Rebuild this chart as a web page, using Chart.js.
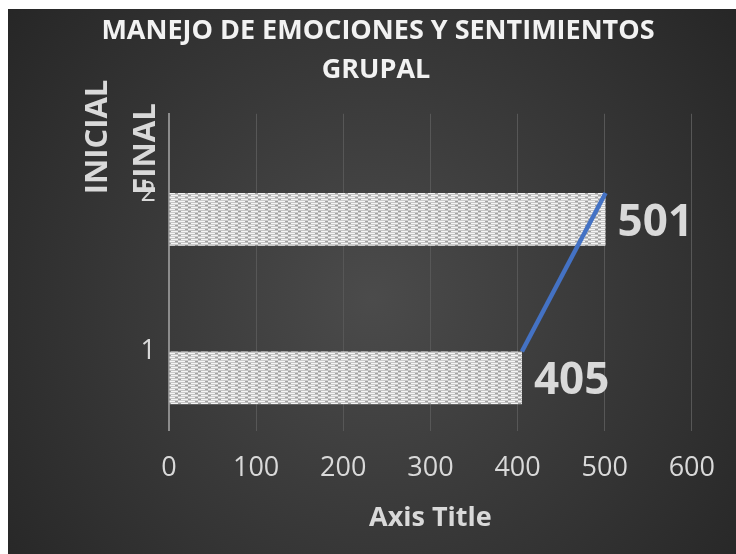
<!DOCTYPE html>
<html>
<head>
<meta charset="utf-8">
<script src="https://cdn.jsdelivr.net/npm/chart.js@4.4.1/dist/chart.umd.min.js"></script>
<style>
  html, body { margin: 0; padding: 0; background: #ffffff; width: 736px; height: 554px; overflow: hidden; }
  #c { position: absolute; left: 8px; top: 9px; }
</style>
</head>
<body>
<canvas id="c" width="728" height="545"></canvas>
<script>
// ---- data ----
const categories = ['1', '2'];
const values = [405, 501];
const emptySeries = [null, null];
const xMin = 0;
const xMax = 600;
const xStep = 100;
const titleLines = ['MANEJO DE EMOCIONES Y SENTIMIENTOS', 'GRUPAL'];
const yTitleA = 'INICIAL';
const yTitleB = 'FINAL';
const xTitle = 'Axis Title';

// ---- bar texture pattern ----
function makePattern() {
  const t = document.createElement('canvas');
  t.width = 10; t.height = 4;
  const g = t.getContext('2d');
  g.fillStyle = '#d6d6d6'; g.fillRect(0, 0, 10, 4);
  g.fillStyle = '#f4f4f4'; g.fillRect(0, 0, 7, 1);
  g.fillStyle = '#a2a2a2'; g.fillRect(7, 0, 3, 1);
  g.fillStyle = '#c4c4c4'; g.fillRect(0, 1, 10, 1);
  g.fillStyle = '#f4f4f4'; g.fillRect(3, 2, 7, 1);
  g.fillStyle = '#a2a2a2'; g.fillRect(0, 2, 3, 1);
  g.fillStyle = '#cacaca'; g.fillRect(0, 3, 10, 1);
  return document.getElementById('c').getContext('2d').createPattern(t, 'repeat');
}
const barPattern = makePattern();

const bgPlugin = {
  id: 'bg',
  beforeDraw(chart) {
    const ctx = chart.ctx;
    const w = chart.width, h = chart.height;
    const g = ctx.createRadialGradient(364, 290, 0, 364, 290, 470);
    g.addColorStop(0, '#4b4b4b');
    g.addColorStop(1, '#262626');
    ctx.save();
    ctx.fillStyle = g;
    ctx.fillRect(0, 0, w, h);
    ctx.restore();
  }
};

const textPlugin = {
  id: 'texts',
  afterDatasetsDraw(chart) {
    const ctx = chart.ctx;
    const meta = chart.getDatasetMeta(1);
    ctx.save();
    ctx.fillStyle = '#d9d9d9';
    ctx.font = 'bold 44px "Open Sans"';
    ctx.textAlign = 'left';
    ctx.textBaseline = 'middle';
    meta.data.forEach((el, i) => {
      ctx.fillText(String(values[i]), el.x + 12, el.y + 4);
    });
    ctx.restore();
  },
  afterDraw(chart) {
    const ctx = chart.ctx;
    const a = chart.chartArea;
    ctx.save();
    // chart title
    ctx.fillStyle = '#f2f2f2';
    ctx.font = 'bold 27px "Open Sans"';
    ctx.textAlign = 'center';
    ctx.textBaseline = 'alphabetic';
    ctx.fillText(titleLines[0], 370, 30);
    ctx.fillText(titleLines[1], 368, 69);
    // x axis title
    ctx.fillStyle = '#d9d9d9';
    ctx.font = 'bold 27px "Open Sans"';
    ctx.fillText(xTitle, (a.left + a.right) / 2, 517);
    // y axis titles (rotated)
    ctx.font = 'bold 31px "Open Sans"';
    ctx.textBaseline = 'middle';
    ctx.save();
    ctx.translate(90.5, 128);
    ctx.rotate(-Math.PI / 2);
    ctx.fillText(yTitleA, 0, 0);
    ctx.restore();
    ctx.save();
    ctx.translate(138, 140);
    ctx.rotate(-Math.PI / 2);
    ctx.fillText(yTitleB, 0, 0);
    ctx.restore();
    ctx.restore();
  }
};

new Chart(document.getElementById('c'), {
  type: 'bar',
  data: {
    labels: categories,
    datasets: [
      {
        type: 'line', label: 'line', data: values, indexAxis: 'y',
        xAxisID: 'x', yAxisID: 'y',
        borderColor: '#4472C4', borderWidth: 4.5, pointRadius: 0, pointHoverRadius: 0,
        fill: false, order: 0
      },
      {
        type: 'bar', label: 'values', data: values,
        xAxisID: 'x', yAxisID: 'y', backgroundColor: barPattern, borderWidth: 0, order: 2
      },
      {
        type: 'bar', label: 'blank', data: emptySeries,
        xAxisID: 'x', yAxisID: 'y', backgroundColor: 'rgba(0,0,0,0)', order: 1
      }
    ]
  },
  options: {
    indexAxis: 'y',
    responsive: false,
    animation: false,
    devicePixelRatio: 1,
    layout: { padding: { left: 0, right: 44, top: 104.75, bottom: 0 } },
    datasets: { bar: { categoryPercentage: 2 / 3, barPercentage: 1 } },
    plugins: { legend: { display: false }, title: { display: false }, tooltip: { enabled: false } },
    scales: {
      y: {
        type: 'category',
        labels: categories,
        reverse: true,
        offset: true,
        grid: { display: false, drawTicks: false },
        border: { display: true, color: '#8c8c8c', width: 2 },
        ticks: { color: '#d9d9d9', font: { family: 'Open Sans', size: 27 }, padding: 13 },
        afterFit(s) { s.width = 161; }
      },
      x: {
        type: 'linear',
        min: xMin, max: xMax,
        ticks: { stepSize: xStep, color: '#d9d9d9', font: { family: 'Open Sans', size: 27 }, padding: 21 },
        grid: { color: '#575757', lineWidth: 1, drawTicks: false },
        border: { display: false },
        afterFit(s) { s.height = 123.25; }
      }
    }
  },
  plugins: [bgPlugin, textPlugin]
});
</script>
</body>
</html>
